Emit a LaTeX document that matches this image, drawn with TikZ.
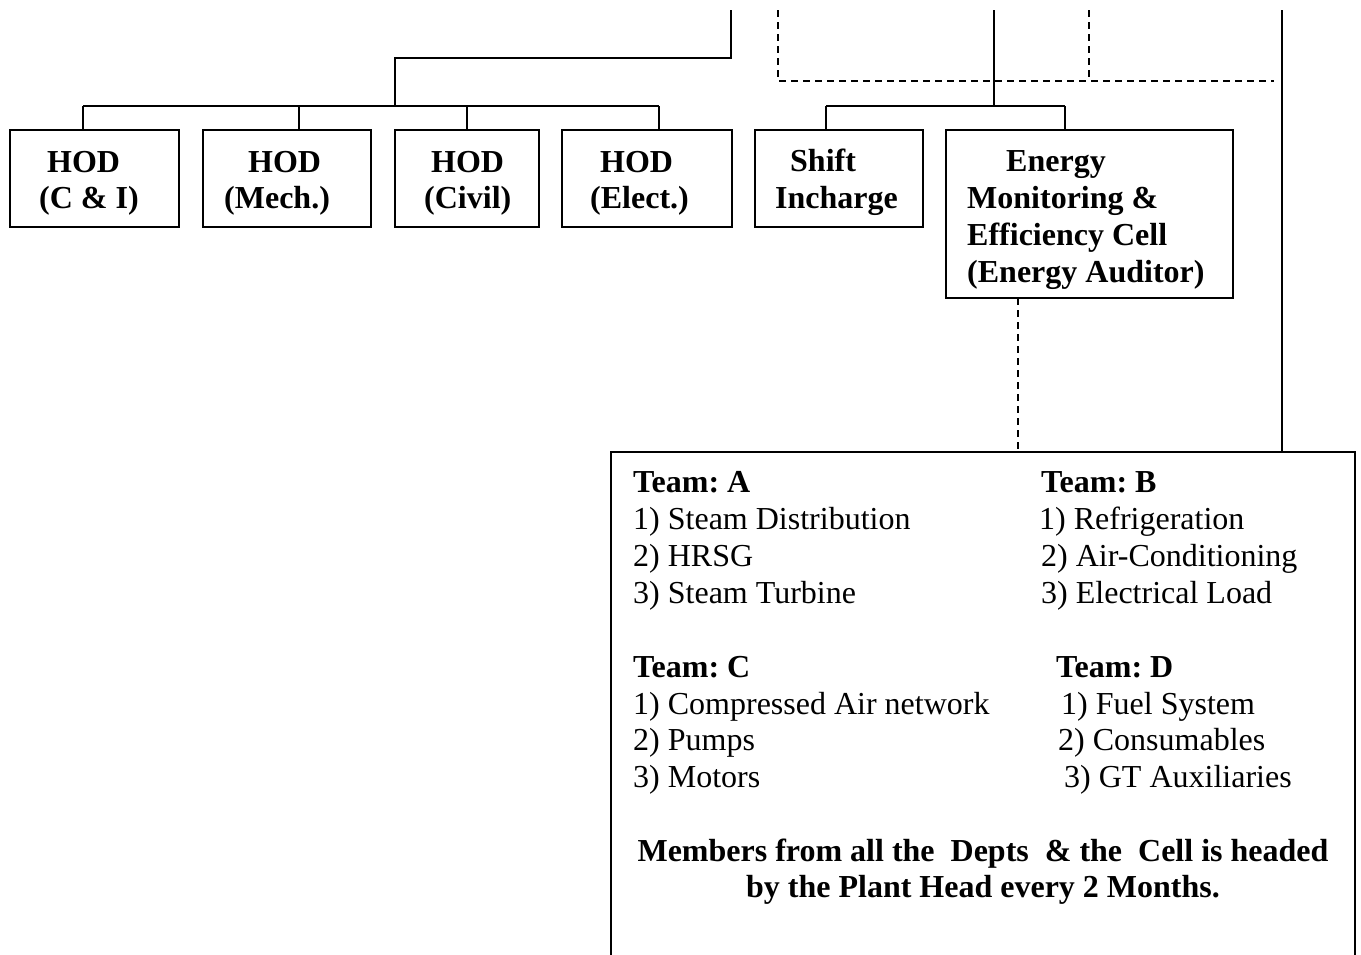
\documentclass[tikz,border=0pt]{standalone}
\usepackage{fontspec}
\setmainfont{Liberation Serif}
\frenchspacing
\begin{document}
\begin{tikzpicture}[x=1pt,y=-1pt,
  bx/.style={draw,line width=1.6pt,inner sep=0pt,outer sep=0pt,anchor=north west},
  ln/.style={line width=1.6pt},
  dln/.style={line width=1.6pt,dash pattern=on 7pt off 5pt},
  tx/.style={anchor=base west,inner sep=0pt,font=\fontsize{32}{37}\selectfont},
  tb/.style={anchor=base west,inner sep=0pt,font=\fontsize{32}{37}\selectfont\bfseries},
  tc/.style={anchor=base,inner sep=0pt,font=\fontsize{32}{37}\selectfont\bfseries}]
\useasboundingbox (0,0) rectangle (1361,954);

% boxes
\node[bx,minimum width=169pt,minimum height=97pt] (hod1) at (10,130) {};
\node[bx,minimum width=168pt,minimum height=97pt] (hod2) at (203,130) {};
\node[bx,minimum width=144pt,minimum height=97pt] (hod3) at (395,130) {};
\node[bx,minimum width=170pt,minimum height=97pt] (hod4) at (562,130) {};
\node[bx,minimum width=168pt,minimum height=97pt] (shift) at (755,130) {};
\node[bx,minimum width=287pt,minimum height=168pt] (energy) at (946,130) {};
\node[bx,minimum width=744pt,minimum height=560pt] (teams) at (611,452) {};

% box texts
\node[tb] (h1a) at (47,172) {HOD};
\node[tb] (h1b) at (39,208) {(C \& I)};
\node[tb] (h2a) at (248,172) {HOD};
\node[tb] (h2b) at (224,208) {(Mech.)};
\node[tb] (h3a) at (431,172) {HOD};
\node[tb] (h3b) at (424,208) {(Civil)};
\node[tb] (h4a) at (600,172) {HOD};
\node[tb] (h4b) at (590,208) {(Elect.)};
\node[tb] (s1) at (790,171) {Shift};
\node[tb] (s2) at (775,208) {Incharge};
\node[tb] (e1) at (1006,171) {Energy};
\node[tb] (e2) at (967,208) {Monitoring \&};
\node[tb] (e3) at (967,245) {Efficiency Cell};
\node[tb] (e4) at (967,282) {(Energy Auditor)};

% team texts
\node[tb] (ta) at (633,492) {Team: A};
\node[tx] (ta1) at (633,529) {1) Steam Distribution};
\node[tx] (ta2) at (633,566) {2) HRSG};
\node[tx] (ta3) at (633,603) {3) Steam Turbine};
\node[tb] (tbh) at (1041,492) {Team: B};
\node[tx] (tb1) at (1039,529) {1) Refrigeration};
\node[tx] (tb2) at (1041,566) {2) Air-Conditioning};
\node[tx] (tb3) at (1041,603) {3) Electrical Load};
\node[tb] (tch) at (633,677) {Team: C};
\node[tx] (tc1) at (633,714) {1) Compressed Air network};
\node[tx] (tc2) at (633,750) {2) Pumps};
\node[tx] (tc3) at (633,787) {3) Motors};
\node[tb] (tdh) at (1056,677) {Team: D};
\node[tx] (td1) at (1061,714) {1) Fuel System};
\node[tx] (td2) at (1058,750) {2) Consumables};
\node[tx] (td3) at (1064,787) {3) GT Auxiliaries};
\node[tc] (f1) at (983,861) {Members from all the\ \ Depts\ \ \& the\ \ Cell is headed};
\node[tc] (f2) at (983,897) {by the Plant Head every 2 Months.};

% connectors left group
\coordinate (topA) at (731,10);
\coordinate (jA) at (395,106);
\coordinate (b1) at (83,106);
\coordinate (b2) at (299,106);
\coordinate (b3) at (467,106);
\coordinate (b4) at (659,106);
\draw[ln] (topA) -- (731,58) -| (jA);
\draw[ln] (b1) -- (b4);
\draw[ln] (b1) -- (b1 |- hod1.north);
\draw[ln] (b2) -- (b2 |- hod2.north);
\draw[ln] (b3) -- (b3 |- hod3.north);
\draw[ln] (b4) -- (b4 |- hod4.north);

% connectors right group
\coordinate (topB) at (994,10);
\coordinate (c1) at (826,106);
\coordinate (c2) at (1065,106);
\draw[ln] (topB) -- (994,106);
\draw[ln] (c1) -- (c2);
\draw[ln] (c1) -- (c1 |- shift.north);
\draw[ln] (c2) -- (c2 |- energy.north);

% dashed
\coordinate (topC) at (778,10);
\coordinate (topD) at (1089,10);
\draw[dln] (topC) -- (778,81) -- (1274,81);
\draw[dln] (topD) -- (1089,81);
\coordinate (ed) at (1018,298);
\draw[dln] (ed |- energy.south) -- (ed |- teams.north);

% right solid
\coordinate (topE) at (1282,10);
\draw[ln] (topE) -- (topE |- teams.north);
\end{tikzpicture}
\end{document}
